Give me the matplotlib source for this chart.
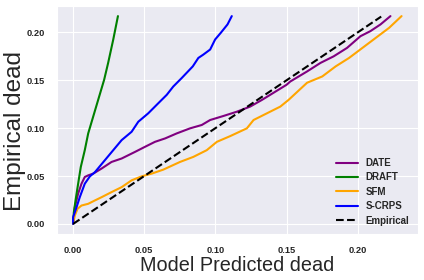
#import libraries
import matplotlib
matplotlib.use('Agg')
import matplotlib.pyplot as plt
import seaborn as sns

#calibration curves
date_x = [0, 0.0012, 0.0035, 0.0059, 0.0082, 0.0106, 0.0141, 0.020, 0.027, 0.0341, 0.0435, 0.0505,
          0.0575, 0.0647, 0.0728, 0.0822, 0.0904, 0.0963, 0.1056, 0.1151, 0.1244, 0.1327, 0.1385,
          0.150, 0.1526, 0.1644, 0.1738, 0.1831, 0.1925, 0.2019, 0.2089, 0.216, 0.223]
date_y = [0, 0.0174, 0.0315, 0.042, 0.049, 0.0507, 0.0525, 0.0578, 0.0647, 0.0683, 0.0752, 0.0805,
          0.0857, 0.0893, 0.0945, 0.0998, 0.1033, 0.1085, 0.1127, 0.1172, 0.1225, 0.1295, 0.1348,
          0.1453, 0.1487, 0.1592, 0.1681, 0.175, 0.1838, 0.196, 0.2013, 0.2083, 0.217]

draft_x = [0, 0.0005, 0.0017, 0.0028, 0.0054, 0.0082, 0.0106, 0.0148, 0.0176, 0.0218, 0.0246, 0.0282, 0.0315]
draft_y = [0, 0.012, 0.0245, 0.035, 0.0595, 0.077, 0.0945, 0.1155, 0.1295, 0.1505, 0.168, 0.1925, 0.217]

sfm_x = [0, 0.0012, 0.0031, 0.0059, 0.0106, 0.0153, 0.020, 0.027, 0.0341, 0.0411, 0.0482, 0.0552,
         0.0634, 0.0751, 0.0845, 0.0939, 0.101, 0.1104, 0.1221, 0.1268, 0.1362, 0.1456, 0.1514,
         0.1644, 0.1751, 0.1845, 0.1939, 0.2033, 0.2127, 0.2221, 0.2308]
sfm_y = [0, 0.0087, 0.0158, 0.0192, 0.021, 0.0245, 0.0279, 0.0332, 0.0384, 0.0455, 0.0497, 0.0525,
         0.0567, 0.0647, 0.070, 0.077, 0.0857, 0.0917, 0.0998, 0.1085, 0.1155, 0.1225, 0.1295,
         0.1474, 0.154, 0.1645, 0.1733, 0.1838, 0.1943, 0.2048, 0.217]

scrps_x = [0, 0, 0.0024, 0.0047, 0.0082, 0.0118, 0.0153, 0.0223, 0.0282, 0.0341, 0.0411, 0.0458,
           0.0528, 0.0587, 0.0658, 0.0704, 0.0763, 0.0841, 0.088, 0.0915, 0.0963, 0.0998, 0.1038,
           0.1085, 0.1115]
scrps_y = [0, 0.007, 0.0174, 0.028, 0.042, 0.0497, 0.054, 0.0665, 0.077, 0.0875, 0.0962, 0.1067,
           0.1155, 0.1243, 0.1348, 0.1435, 0.1523, 0.1645, 0.1733, 0.1768, 0.1821, 0.1926, 0.1996,
           0.2083, 0.217]

emp_x = [0, 0.2165]
emp_y = [0, 0.2165]

#style
sns.set_style('darkgrid')
plt.rcParams['font.family'] = ['Liberation Sans', 'DejaVu Sans']

fig = plt.figure(figsize=(4.24, 2.8), dpi=100)
ax = fig.add_axes([0.1337, 0.1632, 0.8521, 0.8164])

ax.plot(date_x, date_y, color='purple', lw=1.5, label='DATE')
ax.plot(draft_x, draft_y, color='green', lw=1.5, label='DRAFT')
ax.plot(sfm_x, sfm_y, color='orange', lw=1.5, label='SFM')
ax.plot(scrps_x, scrps_y, color='blue', lw=1.5, label='S-CRPS')
ax.plot(emp_x, emp_y, color='black', lw=1.5, ls='--', label='Empirical')

ax.set_xticks([0, 0.05, 0.10, 0.15, 0.20])
ax.set_yticks([0, 0.05, 0.10, 0.15, 0.20])
ax.set_xticklabels(['0.00', '0.05', '0.10', '0.15', '0.20'])
ax.set_yticklabels(['0.00', '0.05', '0.10', '0.15', '0.20'])
ax.tick_params(labelsize=6.7, pad=5)
for t in ax.get_xticklabels() + ax.get_yticklabels():
    t.set_fontweight('bold')

ax.set_xlabel('Model Predicted dead', fontsize=14.3, labelpad=1)
ax.set_ylabel('Empirical dead', fontsize=17.5)
ax.yaxis.set_label_coords(-0.085, 0.45)

leg = ax.legend(loc='lower right', frameon=False, prop={'size': 7, 'weight': 'bold'},
                handlelength=2.2, labelspacing=0.45)

fig.savefig('out.png', dpi=100)
